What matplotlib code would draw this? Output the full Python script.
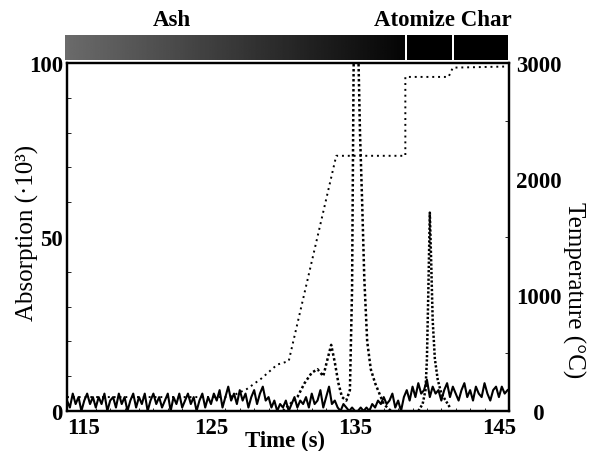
import numpy as np
import matplotlib
matplotlib.use("Agg")
import matplotlib.pyplot as plt
from matplotlib.ticker import MultipleLocator

plt.rcParams["font.family"] = ["Liberation Serif", "DejaVu Serif"]

# solid trace: background absorption, sampled every 0.2 s from 115.0 s
base_t0, base_dt = 115.0, 0.2
base_abs = [
    3, 1, 5, 2, 4, 0, 3, 5, 2, 4,
    1, 4, 2, 5, 0, 3, 4, 1, 5, 2,
    4, 0, 3, 5, 1, 4, 2, 5, 0, 3,
    5, 2, 4, 1, 3, 5, 0, 4, 2, 5,
    1, 3, 5, 2, 4, 0, 3, 5, 1, 4,
    2, 5, 3, 6, 1, 4, 7, 3, 5, 2,
    6, 3, 5, 1, 4, 6, 2, 5, 7, 3,
    4, 1, 3, 0, 2, 1, 3, 0, 2, 4,
    1, 3, 2, 4, 1, 5, 2, 3, 6, 1,
    4, 7, 2, 3, 1, 0, 2, 1, 0, 1,
    0, 0, 1, 0, 1, 0, 2, 1, 3, 2,
    4, 2, 3, 5, 1, 3, 0, 4, 6, 3,
    7, 4, 8, 5, 6, 9, 4, 7, 5, 6,
    3, 6, 8, 4, 7, 5, 3, 6, 8, 4,
    6, 3, 7, 5, 4, 8, 5, 3, 6, 7,
    4, 7, 5, 6,
]
base_time = base_t0 + base_dt * np.arange(len(base_abs))

# dashed trace: early peak (off scale at ~135 s)
ash_time = [130.0, 130.5, 131.0, 131.5, 132.0, 132.4, 132.8, 133.1, 133.35,
            133.6, 133.85, 134.1, 134.4, 134.65, 134.8, 134.9, 135.0, 135.2,
            135.35, 135.5, 135.65, 135.85, 136.1, 136.4, 136.7, 137.0, 137.5]
ash_abs = [0, 2, 4, 8, 11, 12, 10, 15, 19, 14, 8, 4, 3, 6, 35, 95, 140, 110,
           80, 60, 38, 20, 12, 8, 5, 2, 0]

# dotted trace: atomization peak
atom_time = [139.4, 139.7, 139.9, 140.0, 140.1, 140.2, 140.3, 140.4, 140.55,
             140.75, 141.0, 141.3, 141.6]
atom_abs = [0, 2, 6, 15, 35, 57, 42, 26, 15, 9, 5, 3, 1]

# furnace temperature program
temp_time = [115.0, 126.3, 127.5, 128.5, 129.6, 130.4, 133.7, 138.5, 138.5,
             141.5, 141.8, 145.7]
temp_c = [120, 120, 190, 280, 400, 430, 2200, 2200, 2880, 2880, 2960, 2970]

# top bar stages
stage_edges = [115.0, 138.5, 141.8, 145.7]
stage_names = ["Ash", "Atomize", "Char"]

x_ticks = [115, 125, 135, 145]
XLIM = (115.0, 145.7)

W, H = 590, 452
fig = plt.figure(figsize=(W / 100, H / 100), dpi=100)
ax = fig.add_axes([67 / W, 1 - 412 / H, (509 - 67) / W, (412 - 64) / H])
ax2 = ax.twinx()

ax.plot(base_time, base_abs, color="black", lw=1.5, zorder=3)
ax.plot(ash_time, ash_abs, color="black", lw=1.8, ls=(0, (1.0, 1.0)), zorder=2)
ax.plot(atom_time, atom_abs, color="black", lw=1.8, ls=(0, (0.9, 0.8)), zorder=2)
ax2.plot(temp_time, temp_c, color="black", lw=1.4, ls=(0, (1, 2.0)))

ax.set_xlim(*XLIM)
ax.set_ylim(0, 100)
ax2.set_ylim(0, 3000)

tfont = dict(fontsize=16.5, fontweight="bold")
ax.set_xticks(x_ticks)
xl = ax.set_xticklabels([str(v) for v in x_ticks], **tfont)
xl[0].set_ha("left")
ax.set_yticks([0, 50, 100])
ax.set_yticklabels(["0", "50", "100"], **tfont)
ax2.set_yticks([0, 1000, 2000, 3000])
# the "0" on the right sits further out than the others
ax2.set_yticklabels(["\u2002 0", "1000", "2000", "3000"], **tfont)

ax.yaxis.set_minor_locator(MultipleLocator(10))
ax.xaxis.set_minor_locator(MultipleLocator(1))
ax2.yaxis.set_minor_locator(MultipleLocator(500))
ax.tick_params(axis="both", which="both", direction="in", top=False)
ax.tick_params(axis="x", which="major", length=0, pad=4)
ax.tick_params(axis="x", which="minor", length=2)
ax.tick_params(axis="y", which="major", length=0, pad=3)
ax.tick_params(axis="y", which="minor", length=3)
ax2.tick_params(axis="y", which="major", length=0, pad=5)
ax2.tick_params(axis="y", which="minor", direction="in", length=3)
for a in (ax, ax2):
    for s in a.spines.values():
        s.set_linewidth(1.6)

fig.text(285 / W, 1 - 441 / H, "Time (s)", ha="center", va="center",
         fontsize=16.5, fontweight="bold")
fig.text(27 / W, 1 - 233 / H, "Absorption (·10³)", ha="center", va="center",
         rotation=90, fontsize=18)
fig.text(574 / W, 1 - 290 / H, "Temperature (°C)", ha="center", va="center",
         rotation=-90, fontsize=18)

# stage bar above the plot
bar = fig.add_axes([65 / W, 1 - 61 / H, (509 - 65) / W, 25 / H])
bar.set_ylim(0, 1)
bar.axis("off")
grad = np.clip(np.linspace(0.42, 0.02, 200), 0, 1)[None, :]
bar.imshow(grad, cmap="gray", vmin=0, vmax=1, aspect="auto",
           extent=[stage_edges[0], stage_edges[1] - 0.05, 0, 1])
for a0, a1 in zip(stage_edges[1:-1], stage_edges[2:]):
    bar.fill_between([a0 + 0.12, a1 - 0.05], 0, 1, color="black", lw=0)
bar.set_xlim(*XLIM)

fig.text(172 / W, 1 - 21 / H, stage_names[0], ha="center", va="center",
         fontsize=16.5, fontweight="bold")
fig.text(443 / W, 1 - 20 / H, stage_names[1] + " " + stage_names[2],
         ha="center", va="center", fontsize=16.5, fontweight="bold")

fig.savefig("out.png", dpi=100)
